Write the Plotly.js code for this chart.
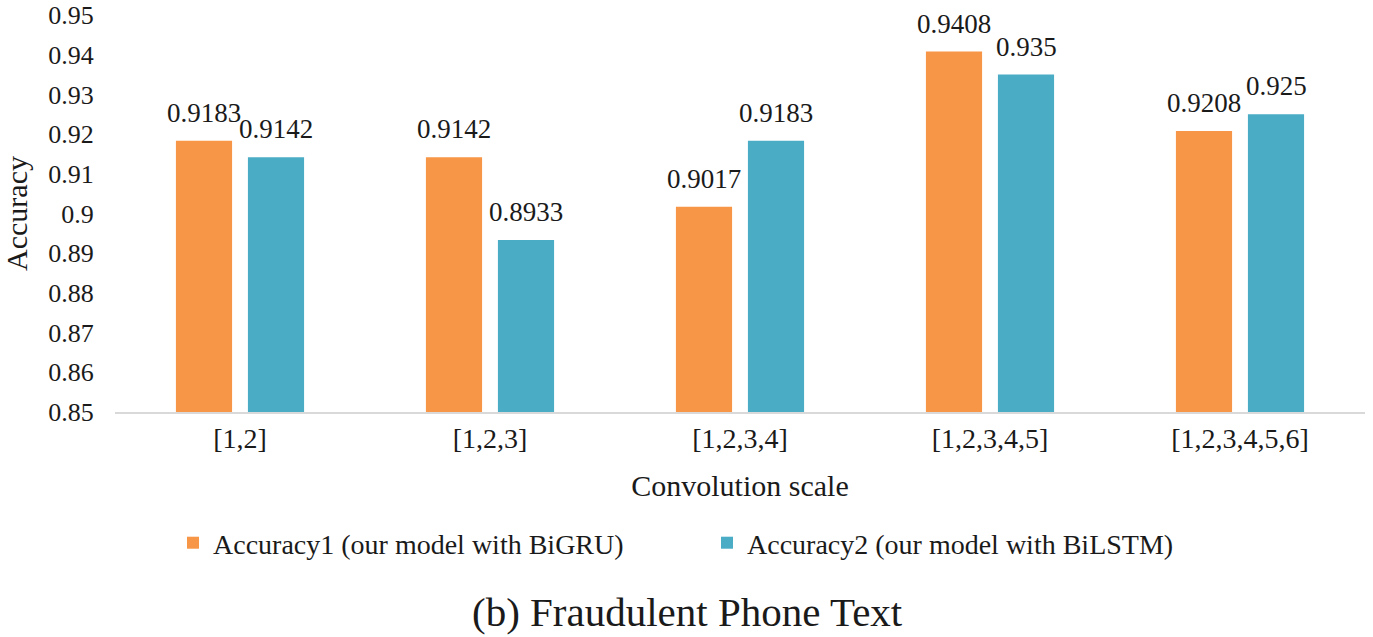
<!DOCTYPE html>
<html>
<head>
<meta charset="utf-8">
<script src="https://cdn.plot.ly/plotly-3.0.1.min.js"></script>
</head>
<body style="margin:0">
<div id="Graph"></div>
<script>
var scale_labels = ['[1,2]', '[1,2,3]', '[1,2,3,4]', '[1,2,3,4,5]', '[1,2,3,4,5,6]'];
var acc_bigru = [0.9183, 0.9142, 0.9017, 0.9408, 0.9208];
var acc_bilstm = [0.9142, 0.8933, 0.9183, 0.935, 0.925];
var y_ticks = [0.85, 0.86, 0.87, 0.88, 0.89, 0.9, 0.91, 0.92, 0.93, 0.94, 0.95];

var y_floor = 0.85;
var bar_gap = 0.424;
var fam = 'Liberation Serif, Times New Roman, serif';
var ink = '#1a1a1a';

// bars start at the axis floor, so heights are given relative to 0.85
var bigru = {
  x: scale_labels,
  y: acc_bigru.map(function (v) { return v - y_floor; }),
  base: y_floor,
  type: 'bar',
  name: 'Accuracy1 (our model with BiGRU)',
  marker: {color: '#F79646'}
};
var bilstm = {
  x: scale_labels,
  y: acc_bilstm.map(function (v) { return v - y_floor; }),
  base: y_floor,
  type: 'bar',
  name: 'Accuracy2 (our model with BiLSTM)',
  marker: {color: '#4BACC6'}
};

// value labels sit a little higher above the bars than plotly's own outside text
var shift = (1 - bar_gap) / 4;
var labels = [];
[acc_bigru, acc_bilstm].forEach(function (vals, s) {
  vals.forEach(function (v, i) {
    labels.push({
      x: i + (s === 0 ? -shift : shift),
      y: v,
      xref: 'x', yref: 'y',
      text: String(v),
      showarrow: false,
      yanchor: 'bottom',
      yshift: 11,
      font: {family: fam, size: 27, color: ink}
    });
  });
});
labels.push({
  text: '(b) Fraudulent Phone Text',
  xref: 'paper', yref: 'paper',
  x: 0.458, y: -0.505,
  xanchor: 'center', yanchor: 'middle',
  showarrow: false,
  font: {family: fam, size: 41, color: ink}
});

var layout = {
  width: 1373,
  height: 637,
  margin: {l: 115, r: 8, t: 15, b: 225},
  font: {family: fam, color: ink},
  barmode: 'group',
  bargap: bar_gap,
  bargroupgap: 0.22,
  showlegend: true,
  legend: {
    orientation: 'h',
    x: 0.0464, xanchor: 'left',
    y: -0.33, yanchor: 'middle',
    font: {family: fam, size: 28, color: ink},
    itemwidth: 30,
    entrywidth: 489
  },
  xaxis: {
    title: {text: 'Convolution scale', font: {family: fam, size: 30, color: ink}, standoff: 22},
    showline: true,
    linecolor: '#d9d9d9',
    linewidth: 2,
    ticks: '',
    showgrid: false,
    tickfont: {family: fam, size: 28, color: ink}
  },
  yaxis: {
    title: {text: 'Accuracy', font: {family: fam, size: 30, color: ink}, standoff: 12},
    range: [0.85, 0.95],
    tickvals: y_ticks,
    ticktext: y_ticks.map(String),
    ticks: 'outside',
    ticklen: 15,
    tickcolor: 'rgba(0,0,0,0)',
    showgrid: false,
    zeroline: false,
    showline: false,
    tickfont: {family: fam, size: 26, color: ink}
  },
  annotations: labels
};

Plotly.newPlot('Graph', [bigru, bilstm], layout, {displayModeBar: false});
</script>
</body>
</html>
